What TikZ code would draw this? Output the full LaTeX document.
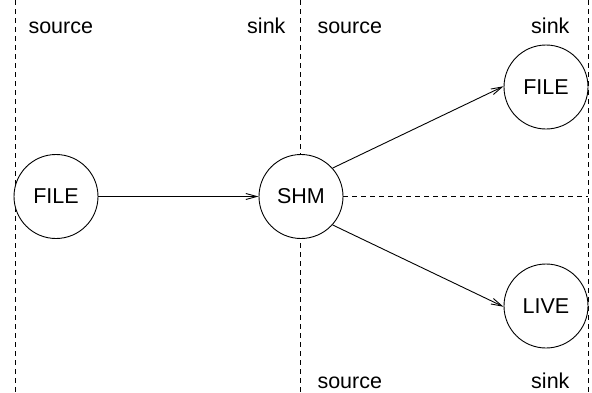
\documentclass[tikz,border=0pt]{standalone}
\usepackage{fontspec}
\setmainfont{Liberation Sans}
\usetikzlibrary{arrows.meta}

\begin{document}
\begin{tikzpicture}[x=1pt,y=-1pt,
    proc/.style={draw, circle, fill=white, minimum size=84pt, inner sep=0pt, line width=0.9pt},
    bound/.style={line width=0.9pt, dash pattern=on 4.5pt off 4.5pt},
    flow/.style={line width=0.9pt, -{Straight Barb[length=11pt,width=6pt]}},
    font=\fontsize{21.5}{25}\selectfont]
    \useasboundingbox (0,0) rectangle (592,392);

    % --- stage boundaries ---
    \coordinate (topA) at (15,0);   \coordinate (botA) at (15,392);
    \coordinate (topB) at (300,0);  \coordinate (botB) at (300,392);
    \coordinate (topC) at (588,0);  \coordinate (botC) at (588,392);
    \coordinate (split) at (588,196.5);
    \draw[bound] (topA) -- (botA);
    \draw[bound] (topB) -- (botB);
    \draw[bound] (topC) -- (botC);

    % --- processes ---
    \node[proc] (filein)  at (56,196.5)  {FILE};
    \node[proc] (shm)     at (301,196.5) {SHM};
    \node[proc] (fileout) at (546,87)  {FILE};
    \node[proc] (live)    at (546,306) {LIVE};

    \draw[bound] (shm.east) -- (split);

    % --- data flow ---
    \draw[flow] (filein.east) -- (shm.west);
    \draw[flow] (shm.42) -- (fileout.179);
    \draw[flow] (shm.-42) -- (live.181);

    % --- stage labels ---
    \node[anchor=base west] (srcA) at (25,33)  {source};
    \node[anchor=base east] (snkA) at (289,33) {sink};
    \node[anchor=base west] (srcB) at (314,33) {source};
    \node[anchor=base east] (snkB) at (573,33) {sink};
    \node[anchor=base west] (srcC) at (314,388) {source};
    \node[anchor=base east] (snkC) at (573,388) {sink};
\end{tikzpicture}
\end{document}
